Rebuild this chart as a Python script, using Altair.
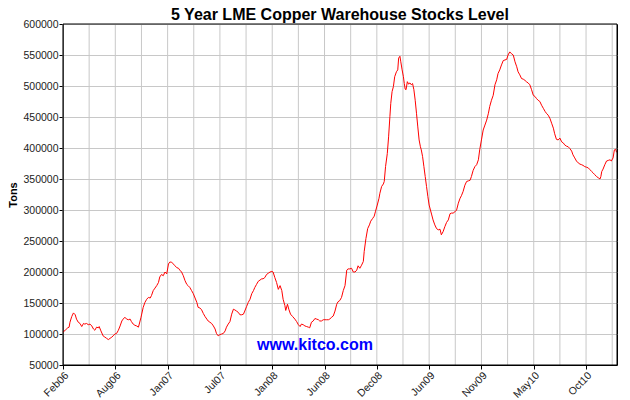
import altair as alt
import pandas as pd

title_text = "5 Year LME Copper Warehouse Stocks Level"
y_title = "Tons"
watermark = "www.kitco.com"
x_labels = ["Feb06", "Aug06", "Jan07", "Jul07", "Jan08", "Jun08",
            "Dec08", "Jun09", "Nov09", "May10", "Oct10"]
label_days = [0, 120, 240, 360, 480, 600, 720, 840, 960, 1080, 1200]
grid_days = [0, 60, 120, 180, 240, 300, 360, 420, 480, 540, 600, 660, 720,
             780, 840, 900, 960, 1020, 1080, 1140, 1200, 1260]
x_max = 1271
y_min = 50000
y_max = 600000
y_ticks = [50000, 100000, 150000, 200000, 250000, 300000, 350000, 400000,
           450000, 500000, 550000, 600000]

# trading-day index and stock level (thousand tonnes)
seg1_day = [0, 5, 11, 14, 16, 20, 24, 28, 31, 35, 39, 43, 47, 50, 54, 58, 62, 66, 70, 73,
            77, 81, 83, 87, 92, 96, 100, 104, 108, 112, 115, 119, 123, 127, 131, 135, 138, 142, 146, 150,
            154, 157, 161, 165, 169, 173, 175, 179, 184, 188, 192, 196, 200, 203, 207, 211, 215, 219, 222, 226,
            230, 234, 238, 242, 245, 249, 253, 257, 261, 265, 268, 272, 276, 280, 284, 287, 291, 295, 299, 303,
            307, 310, 314, 318, 322]
seg1_kt = [103, 106, 110, 111, 119, 128, 134, 131, 124, 119, 117, 112, 117, 116, 117, 115, 116, 113, 108, 106,
           111, 110, 112, 105, 97, 95, 93, 91, 93, 95, 97, 100, 101, 106, 113, 121, 124, 127, 124, 123,
           124, 120, 116, 114, 113, 111, 116, 127, 143, 151, 156, 159, 158, 162, 170, 174, 178, 183, 192, 196,
           194, 200, 197, 213, 216, 216, 213, 210, 207, 206, 203, 200, 194, 186, 180, 178, 175, 170, 165, 158,
           151, 143, 142, 139, 133]

seg2_day = [326, 330, 333, 337, 341, 345, 349, 352, 356, 360, 364, 368, 372, 375, 379, 383, 387, 391, 394, 398,
            402, 406, 410, 414, 417, 421, 425, 429, 433, 437, 440, 444, 448, 452, 456, 459, 463, 467, 471, 475,
            479, 482, 486, 490, 494, 498, 502, 505, 509, 511, 515, 518, 522, 527, 532, 536, 540, 544, 547, 551,
            555, 559, 563, 566, 570, 574, 578, 582, 586, 589, 593, 597, 601, 605, 609, 612, 616, 620, 624, 628,
            631, 635, 639, 643, 647]
seg2_kt = [128, 124, 121, 119, 117, 113, 108, 101, 97, 99, 100, 101, 105, 111, 116, 120, 132, 140, 139, 137,
           135, 131, 131, 132, 137, 144, 151, 156, 165, 170, 175, 180, 185, 187, 189, 189, 191, 196, 198, 200,
           201, 200, 191, 183, 172, 178, 170, 156, 146, 138, 148, 140, 132, 128, 124, 120, 115, 112, 116, 115,
           113, 112, 111, 110, 119, 121, 125, 124, 123, 121, 121, 123, 123, 123, 123, 124, 127, 129, 137, 148,
           152, 154, 159, 170, 178]

seg3_day = [651, 654, 658, 662, 666, 670, 674, 677, 681, 685, 689, 691, 695, 699, 703, 706, 710, 714, 717, 721,
            725]
seg3_kt = [203, 205, 205, 206, 200, 200, 203, 210, 206, 211, 217, 233, 254, 270, 276, 282, 286, 290, 298, 308,
           319]

seg4_day = [727, 731, 735, 737, 740, 744, 747, 750, 752, 755, 758, 761, 765, 768, 770, 773, 775, 778, 781, 783,
            785, 787, 790, 793, 796, 799, 802, 805, 808, 811, 814, 817, 820, 822, 825, 828, 831, 834, 837, 840,
            843, 846, 849, 853, 857, 861, 865, 868, 872, 876, 880, 884, 888, 891, 895, 899, 903, 907, 911, 914,
            918, 922, 926, 930]
seg4_kt = [327, 338, 342, 346, 370, 391, 418, 451, 472, 491, 499, 515, 523, 526, 545, 548, 539, 526, 515, 504,
           495, 494, 507, 503, 505, 502, 504, 494, 477, 456, 434, 413, 402, 397, 386, 370, 354, 338, 322, 308,
           300, 292, 284, 276, 270, 268, 269, 260, 265, 273, 280, 284, 294, 295, 295, 297, 300, 311, 319, 323,
           330, 340, 346, 347]

seg5_day = [934, 937, 941, 945, 949, 953, 956, 960, 964, 968, 972, 976, 979, 983, 987, 991, 995, 998, 1002, 1006,
            1010, 1014, 1018, 1021, 1025, 1029, 1033, 1037, 1041, 1044, 1048, 1052, 1056, 1060, 1063, 1067, 1071, 1075, 1079, 1083,
            1086, 1090, 1094, 1098, 1102, 1106, 1109, 1113, 1117, 1121, 1125, 1128, 1132, 1136, 1140, 1144, 1148, 1151, 1155, 1159,
            1163, 1167, 1170, 1174, 1178, 1182, 1186, 1190, 1193, 1197, 1201, 1205, 1209, 1213, 1216, 1220, 1224, 1228, 1232, 1234,
            1236, 1239, 1243, 1247, 1251, 1255, 1258, 1262, 1265, 1268, 1270]
seg5_kt = [348, 354, 364, 370, 373, 381, 397, 413, 429, 437, 445, 456, 467, 477, 485, 502, 510, 520, 526, 534,
           541, 542, 543, 550, 555, 552, 550, 539, 531, 523, 518, 512, 511, 509, 507, 505, 502, 494, 485, 483,
           480, 477, 475, 469, 464, 459, 456, 453, 448, 440, 432, 423, 414, 413, 416, 410, 408, 405, 403, 402,
           399, 395, 389, 384, 379, 376, 374, 373, 372, 370, 369, 368, 365, 362, 360, 357, 354, 352, 350, 354,
           362, 366, 373, 379, 380, 381, 379, 384, 397, 398, 393]

rows = []
for days, kts in [(seg1_day, seg1_kt), (seg2_day, seg2_kt), (seg3_day, seg3_kt),
                  (seg4_day, seg4_kt), (seg5_day, seg5_kt)]:
    for d, v in zip(days, kts, strict=True):
        rows.append({"day": d, "tons": v * 1000})
df = pd.DataFrame(rows)
grid_df = pd.DataFrame({"day": grid_days})
frame_df = pd.DataFrame({"d0": [0], "d1": [x_max], "t0": [y_min], "t1": [y_max]})

FONT = "Liberation Sans"
label_expr = ""
for d, s in zip(label_days, x_labels):
    label_expr += "datum.value == %d ? '%s' : " % (d, s)
label_expr += "''"

x_scale = alt.Scale(domain=[0, x_max], nice=False, zero=False)
y_scale = alt.Scale(domain=[y_min, y_max], nice=False, zero=False)

x_axis = alt.Axis(values=label_days, labelExpr=label_expr, grid=False,
                  labelAngle=315, labelAlign="right", labelBaseline="top",
                  labelPadding=1, tickSize=4, labelFlush=False, labelOverlap=False)
y_axis = alt.Axis(values=y_ticks, format="d", grid=True, tickSize=4,
                  labelPadding=1, labelFlush=False, labelOverlap=False,
                  titlePadding=4)

grid = alt.Chart(grid_df).mark_rule(color="#c8c8c8", strokeWidth=1).encode(
    x=alt.X("day:Q", scale=x_scale, title=None, axis=x_axis)
)

line = alt.Chart(df).mark_line(color="#ff0000", strokeWidth=1, interpolate="linear").encode(
    x=alt.X("day:Q", scale=x_scale, title=None, axis=x_axis),
    y=alt.Y("tons:Q", scale=y_scale, title=y_title, axis=y_axis),
)

frame = alt.Chart(frame_df).mark_rect(fillOpacity=0, stroke="black", strokeWidth=1).encode(
    x=alt.X("d0:Q", scale=x_scale, title=None, axis=x_axis),
    x2="d1:Q",
    y=alt.Y("t0:Q", scale=y_scale, title=y_title, axis=y_axis),
    y2="t1:Q",
)

wm = alt.Chart(pd.DataFrame({"t": [watermark]})).mark_text(
    font=FONT, fontSize=16, fontWeight="bold", color="#0000ff",
    align="center", baseline="middle"
).encode(text="t:N", x=alt.value(252), y=alt.value(321))

chart = alt.layer(grid, line, frame, wm).properties(
    width=554, height=341,
    title=alt.TitleParams(text=title_text, font=FONT, fontSize=16, fontWeight="bold",
                          color="black", anchor="middle", offset=2, dy=6),
    autosize=alt.AutoSizeParams(type="none"),
    padding={"left": 55, "top": 16, "right": 5, "bottom": 35},
).configure_view(
    stroke="black", strokeWidth=1
).configure_axis(
    labelFont=FONT, labelFontSize=10.5, labelColor="#222222",
    titleFont=FONT, titleFontSize=11, titleFontWeight="bold", titleColor="black",
    domainColor="black", tickColor="black", gridColor="#c8c8c8", gridWidth=1,
)

chart.save("out.html", embed_options={"renderer": "svg", "actions": False})
